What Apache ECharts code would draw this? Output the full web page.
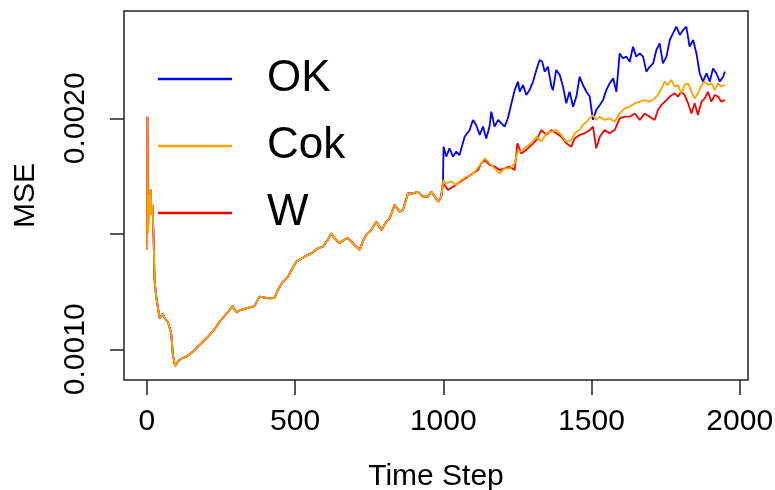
<!DOCTYPE html>
<html><head><meta charset="utf-8">
<script src="https://cdn.jsdelivr.net/npm/echarts@6/dist/echarts.min.js"></script>
<style>html,body{margin:0;padding:0;background:#fff}#c{width:775px;height:490px}</style>
</head><body><div id="c"></div>
<script>
// Shared curve (all three methods identical before step 1000)
const baseSteps = [1,2,4,7,10,13,16,19,23,26,31,37,43,49,54,60,71,82,88,95,104,114,133,154,178,195,212,229,245,262,279,289,302,316,341,363,380,408,431,442,458,476,488,504,519,532,555,577,594,610,622,633,650,664,678,695,704,718,728,740,757,774,791,808,819,836,853,864,881,898,914,931,948,960,971,984,993,999];
const baseVals = [0.001430,0.002007,0.001504,0.001668,0.001581,0.001690,0.001581,0.001625,0.001473,0.001300,0.001235,0.001183,0.001135,0.001127,0.001153,0.001135,0.001118,0.001071,0.000975,0.000928,0.000945,0.000958,0.000968,0.000988,0.001019,0.001040,0.001062,0.001088,0.001118,0.001144,0.001170,0.001187,0.001159,0.001170,0.001179,0.001187,0.001228,0.001221,0.001222,0.001257,0.001291,0.001314,0.001343,0.001379,0.001391,0.001401,0.001416,0.001437,0.001444,0.001473,0.001502,0.001481,0.001459,0.001473,0.001481,0.001459,0.001447,0.001430,0.001465,0.001495,0.001516,0.001552,0.001516,0.001552,0.001567,0.001625,0.001596,0.001603,0.001675,0.001675,0.001682,0.001661,0.001661,0.001682,0.001661,0.001639,0.001661,0.001720];

// OK after step 1000
const okSteps = [1001,1010,1021,1033,1044,1055,1072,1089,1100,1111,1123,1134,1145,1156,1162,1173,1185,1196,1207,1218,1230,1241,1252,1258,1269,1280,1291,1303,1314,1325,1334,1342,1353,1365,1370,1381,1393,1404,1415,1426,1438,1449,1460,1471,1483,1494,1505,1516,1528,1539,1550,1561,1573,1584,1595,1606,1618,1629,1640,1651,1663,1674,1685,1696,1708,1719,1730,1741,1753,1764,1775,1786,1798,1809,1820,1831,1843,1854,1865,1876,1888,1899,1910,1921,1933,1944,1950];
const okVals = [0.001877,0.001834,0.001870,0.001834,0.001856,0.001841,0.001920,0.001949,0.001993,0.001971,0.001928,0.001964,0.001913,0.001964,0.002029,0.001964,0.001993,0.001978,0.001964,0.002000,0.002065,0.002122,0.002159,0.002115,0.002144,0.002101,0.002122,0.002159,0.002209,0.002252,0.002245,0.002202,0.002223,0.002137,0.002122,0.002209,0.002187,0.002137,0.002065,0.002115,0.002050,0.002094,0.002180,0.002144,0.002115,0.002094,0.001993,0.002036,0.002058,0.002079,0.002122,0.002151,0.002173,0.002115,0.002281,0.002260,0.002267,0.002245,0.002310,0.002267,0.002281,0.002267,0.002202,0.002223,0.002238,0.002296,0.002324,0.002238,0.002267,0.002339,0.002368,0.002397,0.002361,0.002382,0.002397,0.002310,0.002339,0.002281,0.002195,0.002159,0.002195,0.002159,0.002216,0.002195,0.002159,0.002180,0.002202];

// Cok after step 1000
const cokSteps = [1001,1010,1027,1044,1061,1078,1095,1111,1128,1140,1156,1173,1190,1207,1224,1241,1252,1263,1280,1297,1314,1331,1348,1365,1381,1398,1415,1432,1443,1460,1471,1483,1494,1505,1516,1528,1544,1561,1578,1595,1612,1629,1646,1663,1679,1696,1713,1724,1736,1747,1758,1769,1781,1792,1803,1814,1826,1837,1848,1859,1871,1882,1893,1904,1916,1927,1938,1950];
const cokVals = [0.001733,0.001718,0.001726,0.001711,0.001733,0.001747,0.001754,0.001776,0.001805,0.001827,0.001805,0.001783,0.001762,0.001783,0.001783,0.001805,0.001863,0.001856,0.001877,0.001892,0.001920,0.001899,0.001935,0.001942,0.001949,0.001928,0.001899,0.001906,0.001935,0.001949,0.001971,0.001985,0.002000,0.002014,0.001993,0.002007,0.001993,0.002000,0.001985,0.002021,0.002043,0.002050,0.002065,0.002072,0.002079,0.002072,0.002086,0.002101,0.002130,0.002159,0.002144,0.002166,0.002137,0.002144,0.002108,0.002144,0.002151,0.002115,0.002086,0.002108,0.002144,0.002159,0.002144,0.002151,0.002122,0.002151,0.002137,0.002144];

// W after step 1000
const wSteps = [1001,1016,1033,1050,1066,1083,1100,1117,1128,1140,1156,1173,1190,1207,1224,1241,1250,1263,1280,1297,1314,1331,1348,1365,1381,1398,1415,1432,1443,1460,1477,1494,1505,1516,1528,1544,1561,1578,1595,1612,1629,1646,1663,1679,1696,1713,1724,1736,1753,1764,1781,1792,1803,1814,1826,1837,1848,1859,1871,1882,1893,1904,1916,1927,1938,1950];
const wVals = [0.001726,0.001690,0.001704,0.001718,0.001733,0.001747,0.001762,0.001776,0.001805,0.001819,0.001798,0.001791,0.001776,0.001783,0.001791,0.001776,0.001892,0.001848,0.001863,0.001884,0.001906,0.001949,0.001928,0.001949,0.001935,0.001920,0.001892,0.001877,0.001913,0.001928,0.001935,0.001949,0.001964,0.001870,0.001920,0.001949,0.001935,0.001949,0.002000,0.002007,0.002007,0.002021,0.001993,0.002021,0.002007,0.001993,0.002036,0.002058,0.002079,0.002094,0.002108,0.002094,0.002115,0.002101,0.002065,0.002021,0.002065,0.002014,0.002072,0.002086,0.002115,0.002072,0.002101,0.002094,0.002072,0.002079];

const xTicks = [0, 500, 1000, 1500, 2000];
const yTicks = [0.0010, 0.0015, 0.0020];
const yLabels = [0.0010, 0.0020];
const legendNames = ['OK', 'Cok', 'W'];

const pairs = (s, v) => s.map((x, i) => [x, v[i]]);
const base = pairs(baseSteps, baseVals);
const FONT = 'Liberation Sans';

const chart = echarts.init(document.getElementById('c'), null, {renderer: 'canvas'});
const mk = (name, tail, color) => ({
  name, type: 'line', data: base.concat(tail), showSymbol: false, symbol: 'none',
  lineStyle: {color, width: 1.8}, itemStyle: {color}, silent: true
});
chart.setOption({
  animation: false,
  backgroundColor: '#fff',
  grid: {left: 124, right: 27, top: 11, bottom: 110, show: true, borderColor: '#222', borderWidth: 1.5,
    outerBoundsMode: 'none', containLabel: false},
  xAxis: {
    type: 'value', min: -77, max: 2028,
    axisLine: {show: false, onZero: false}, splitLine: {show: false},
    axisTick: {show: true, customValues: xTicks, length: 15, lineStyle: {color: '#222', width: 1.5}},
    axisLabel: {customValues: xTicks, margin: 27, fontSize: 30, fontFamily: FONT, color: '#000',
      formatter: v => String(v)},
    name: 'Time Step', nameLocation: 'middle', nameGap: 82,
    nameTextStyle: {fontSize: 30, fontFamily: FONT, color: '#000'}
  },
  yAxis: {
    type: 'value', min: 0.000867, max: 0.0024645,
    axisLine: {show: false, onZero: false}, splitLine: {show: false},
    axisTick: {show: true, customValues: yTicks, length: 14, lineStyle: {color: '#222', width: 1.5}},
    axisLabel: {customValues: yLabels, rotate: 90, margin: 33, fontSize: 30, fontFamily: FONT, color: '#000',
      formatter: v => v.toFixed(4)},
    name: 'MSE', nameLocation: 'middle', nameGap: 83, nameRotate: 90,
    nameTextStyle: {fontSize: 30, fontFamily: FONT, color: '#000'}
  },
  legend: {
    orient: 'vertical', left: 153, top: 52, itemWidth: 74, itemHeight: 2.5, itemGap: 23, icon: 'rect',
    data: legendNames, selectedMode: false,
    textStyle: {fontSize: 44, fontFamily: FONT, color: '#000', padding: [0, 0, 0, 30], lineHeight: 44}
  },
  series: [
    mk('OK', pairs(okSteps, okVals), '#0000ff'),
    mk('W', pairs(wSteps, wVals), '#ff0000'),
    mk('Cok', pairs(cokSteps, cokVals), '#ffa500')
  ]
});
</script></body></html>
